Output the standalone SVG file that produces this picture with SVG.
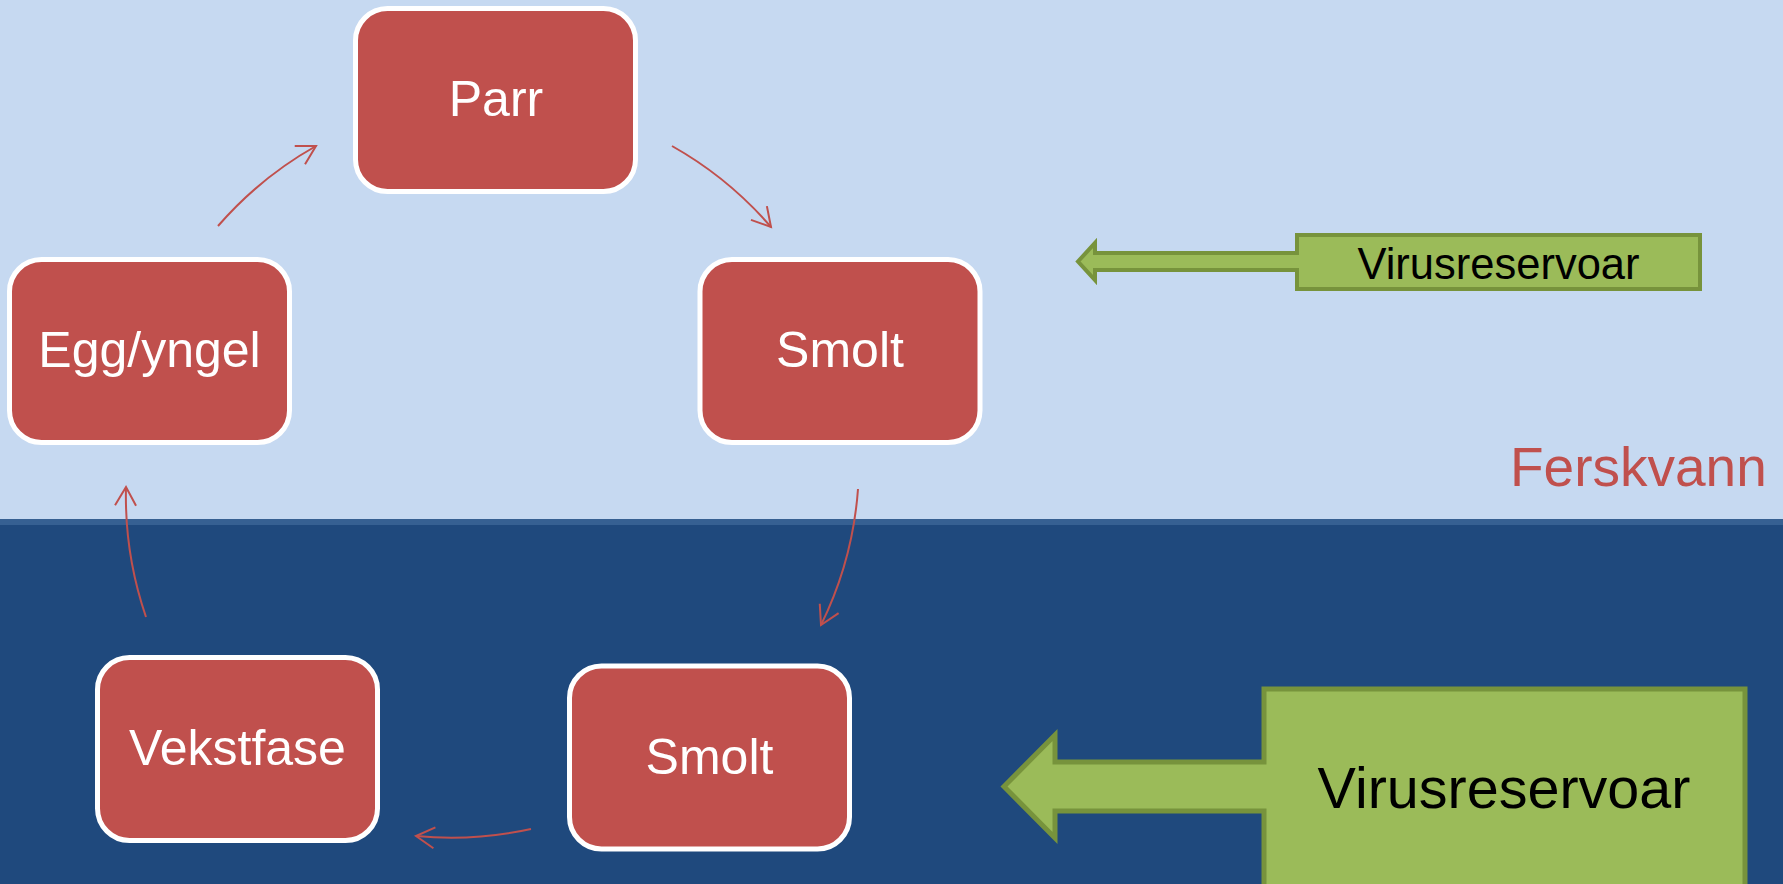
<svg xmlns="http://www.w3.org/2000/svg" width="1783" height="884" viewBox="0 0 1783 884">
<style>
.box{fill:#C0504D;stroke:#FFFFFF;stroke-width:5}
.lbl{font-family:"Liberation Sans",Arial,sans-serif;font-size:50px;fill:#FFFFFF;text-anchor:middle}
.conn{fill:none;stroke:#C0504D;stroke-width:2}
.call{fill:#9BBB59;stroke:#77933C;stroke-linejoin:miter}
.vtxt{font-family:"Liberation Sans",Arial,sans-serif;fill:#000000;text-anchor:middle}
</style>
<defs>
<marker id="ah" markerUnits="userSpaceOnUse" markerWidth="30" markerHeight="30" viewBox="-22 -15 26 30" refX="0" refY="0" orient="auto">
<path d="M -18.5 -10.5 L 0 0 L -18.5 10.5" fill="none" stroke="#C0504D" stroke-width="2"/>
</marker>
</defs>
<g id="background">
<rect x="0" y="0" width="1783" height="520" fill="#C6D9F1"/>
<rect x="0" y="519" width="1783" height="365" fill="#1F497D"/>
<rect x="0" y="519" width="1783" height="6" fill="#366092"/>
</g>
<g id="connectors">
<path class="conn" d="M 218 226 A 370 370 0 0 1 316 146" marker-end="url(#ah)"/>
<path class="conn" d="M 672 146 A 370 370 0 0 1 771 227" marker-end="url(#ah)"/>
<path class="conn" d="M 858 489 A 368 368 0 0 1 821 625" marker-end="url(#ah)"/>
<path class="conn" d="M 531 829 A 370 370 0 0 1 416 836" marker-end="url(#ah)"/>
<path class="conn" d="M 146 617 A 372 372 0 0 1 126 487" marker-end="url(#ah)"/>
</g>
<g id="node-parr">
<rect class="box" x="355.5" y="8.5" width="280" height="183" rx="32" ry="32"/>
<text class="lbl" x="496" y="116">Parr</text>
</g>
<g id="node-egg">
<rect class="box" x="9.5" y="259.5" width="280" height="183" rx="32" ry="32"/>
<text class="lbl" x="149.5" y="367">Egg/yngel</text>
</g>
<g id="node-smolt-top">
<rect class="box" x="700" y="259.5" width="280" height="183" rx="32" ry="32"/>
<text class="lbl" x="840" y="367">Smolt</text>
</g>
<g id="node-vekstfase">
<rect class="box" x="97.5" y="657.5" width="280" height="183" rx="32" ry="32"/>
<text class="lbl" x="237.5" y="765">Vekstfase</text>
</g>
<g id="node-smolt-bottom">
<rect class="box" x="569.5" y="666" width="280" height="183" rx="32" ry="32"/>
<text class="lbl" x="709.5" y="773.5">Smolt</text>
</g>
<g id="virus-top">
<path class="call" stroke-width="4" d="M 1297 235 L 1700 235 L 1700 289 L 1297 289 L 1297 270 L 1095 270 L 1095 280 L 1078 261.5 L 1095 243 L 1095 253 L 1297 253 Z"/>
<text class="vtxt" x="1498.5" y="279" font-size="43.5">Virusreservoar</text>
</g>
<g id="virus-bottom">
<path class="call" stroke-width="5" d="M 1264 689 L 1745 689 L 1745 900 L 1264 900 L 1264 811 L 1055 811 L 1055 838 L 1004 786.5 L 1055 735 L 1055 762 L 1264 762 Z"/>
<text class="vtxt" x="1504" y="808" font-size="57.5">Virusreservoar</text>
</g>
<g id="label-ferskvann">
<text x="1510" y="486" font-family="'Liberation Sans',Arial,sans-serif" font-size="55" fill="#C0504D">Ferskvann</text>
</g>
</svg>
